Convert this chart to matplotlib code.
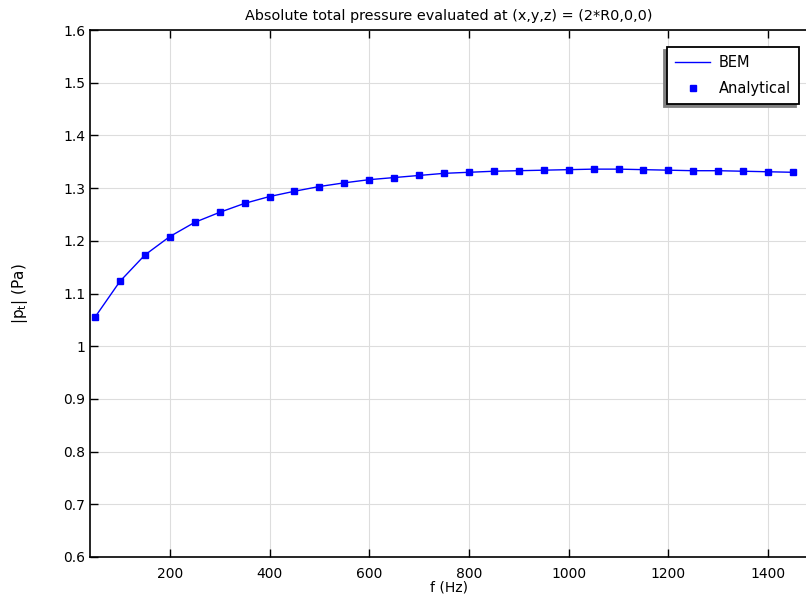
import matplotlib
matplotlib.use('Agg')
import matplotlib.pyplot as plt

# frequencies (Hz) and |p_t| (Pa)
freq = [50, 100, 150, 200, 250, 300, 350, 400, 450, 500, 550, 600, 650, 700,
        750, 800, 850, 900, 950, 1000, 1050, 1100, 1150, 1200, 1250, 1300,
        1350, 1400, 1450]
p_bem = [1.055, 1.123, 1.173, 1.208, 1.235, 1.254, 1.271, 1.284, 1.294, 1.303,
         1.310, 1.316, 1.320, 1.324, 1.328, 1.330, 1.332, 1.333, 1.334, 1.335,
         1.336, 1.336, 1.335, 1.334, 1.333, 1.333, 1.332, 1.331, 1.330]
p_analytical = p_bem

xticks = [200, 400, 600, 800, 1000, 1200, 1400]
yticks = [0.6, 0.7, 0.8, 0.9, 1.0, 1.1, 1.2, 1.3, 1.4, 1.5, 1.6]

fig = plt.figure(figsize=(8.06, 5.98), dpi=100)
ax = fig.add_axes([90/806, 41/598, 718/806, 527/598])

ax.plot(freq, p_bem, color='blue', lw=1, label='BEM')
ax.plot(freq, p_analytical, ls='none', marker='s', ms=5, color='blue', label='Analytical')

ax.set_xlim(40, 1480)
ax.set_ylim(0.6, 1.6)
ax.set_xticks(xticks)
ax.set_yticks(yticks)
ax.set_yticklabels([f'{v:g}' for v in yticks])
ax.tick_params(direction='in', length=6, width=1, top=True, labelsize=10, colors='black')
ax.tick_params(axis='x', pad=7)
ax.grid(True, color='#dddddd', lw=0.8)
ax.set_axisbelow(True)
for s in ax.spines.values():
    s.set_linewidth(1.2)

ax.set_title('Absolute total pressure evaluated at (x,y,z) = (2*R0,0,0)', fontsize=10.4, pad=7)
ax.set_xlabel('f (Hz)', fontsize=10, labelpad=0)
ax.set_ylabel(r'|p$_\mathrm{t}$| (Pa)', fontsize=11, labelpad=24)

leg = ax.legend(loc='upper right', bbox_to_anchor=(0.9875, 0.968), borderaxespad=0,
                fancybox=False,
                shadow={'ox': -2.2, 'oy': -2.2, 'color': '#808080', 'alpha': 1},
                fontsize=10.5, borderpad=0.55, labelspacing=0.75, handlelength=2.4,
                handletextpad=0.6, edgecolor='black', framealpha=1)
leg.get_frame().set_linewidth(1.3)

fig.savefig('out.png', dpi=100)
